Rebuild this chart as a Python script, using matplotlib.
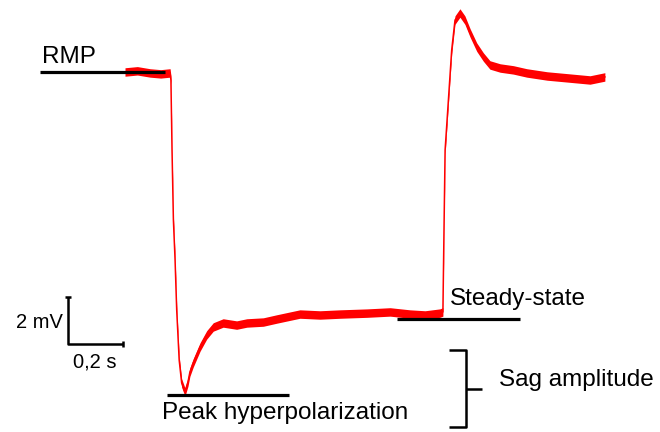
import matplotlib
matplotlib.use("Agg")
import matplotlib.pyplot as plt
import numpy as np

plt.rcParams['font.family'] = ['Liberation Sans', 'DejaVu Sans']

# Membrane potential trace (relative to RMP)
time_s = [0.000, 0.045, 0.091, 0.130, 0.164, 0.167, 0.171, 0.176, 0.182, 0.188,
          0.197, 0.206, 0.218, 0.229, 0.236, 0.248, 0.273, 0.297, 0.321, 0.357,
          0.406, 0.443, 0.503, 0.552, 0.636, 0.709, 0.782, 0.880, 0.964, 1.036,
          1.091, 1.145, 1.156, 1.160, 1.164, 1.176, 1.188, 1.200, 1.218, 1.236,
          1.255, 1.279, 1.303, 1.327, 1.364, 1.412, 1.461, 1.535, 1.618, 1.691,
          1.745]
voltage_mv = [0.00, 0.05, -0.04, -0.08, -0.04, -0.34, -3.32, -6.30, -7.98, -10.13,
              -12.26, -13.23, -13.62, -13.19, -12.77, -12.38, -11.70, -11.19, -10.85, -10.68,
              -10.77, -10.68, -10.64, -10.51, -10.30, -10.34, -10.30, -10.26, -10.21, -10.30,
              -10.34, -10.26, -10.21, -6.72, -3.32, -1.19, 0.94, 2.21, 2.51, 2.21,
              1.66, 1.06, 0.64, 0.30, 0.17, 0.09, -0.04, -0.17, -0.26, -0.34,
              -0.21]
noise_mv = 0.18

rmp_mv = 0.0
peak_mv = -13.74
steady_mv = -10.51

fig = plt.figure(figsize=(6.6, 4.32), dpi=100)
ax = fig.add_axes([0, 0, 1, 1])
ax.set_xlim(-125 / 275, 535 / 275)
ax.set_ylim(-360 / 23.5, 72 / 23.5)
ax.axis('off')

t = np.array(time_s)
v = np.array(voltage_mv)
ax.fill_between(t, v - noise_mv, v + noise_mv, color='#ff0000', lw=0, zorder=2)
ax.plot(t, v, color='#ff0000', lw=1.1, zorder=2)

# reference lines
blk = dict(color='black', lw=2.3, solid_capstyle='butt', zorder=3)
ax.plot([-0.309, 0.145], [rmp_mv, rmp_mv], **blk)
ax.plot([0.153, 0.596], [peak_mv, peak_mv], **blk)
ax.plot([0.989, 1.436], [steady_mv, steady_mv], **blk)

fs = 17.5
ax.text(-0.302, 0.64, 'RMP', fontsize=fs, ha='left', va='center')
ax.text(0.135, -14.51, 'Peak hyperpolarization', fontsize=fs, ha='left', va='center')
ax.text(1.182, -9.66, 'Steady-state', fontsize=fs, ha='left', va='center')
ax.text(1.36, -13.11, 'Sag amplitude', fontsize=fs, ha='left', va='center')

# bracket
br = dict(color='black', lw=1.8, solid_capstyle='butt', zorder=3)
ax.plot([1.178, 1.24, 1.24, 1.178], [-11.83, -11.83, -15.11, -15.11], **br)
ax.plot([1.24, 1.298], [-13.49, -13.49], **br)

# scale bar
sb = dict(color='black', lw=1.8, solid_capstyle='butt', zorder=3)
ax.plot([-0.207, -0.207, -0.007], [-9.57, -11.57, -11.57], **sb)
ax.plot([-0.218, -0.196], [-9.57, -9.57], **sb)
ax.plot([-0.007, -0.007], [-11.44, -11.70], **sb)
ax.text(-0.225, -10.64, '2 mV', fontsize=14.5, ha='right', va='center')
ax.text(-0.109, -12.34, '0,2 s', fontsize=14.5, ha='center', va='center')

fig.savefig('out.png', dpi=100)
